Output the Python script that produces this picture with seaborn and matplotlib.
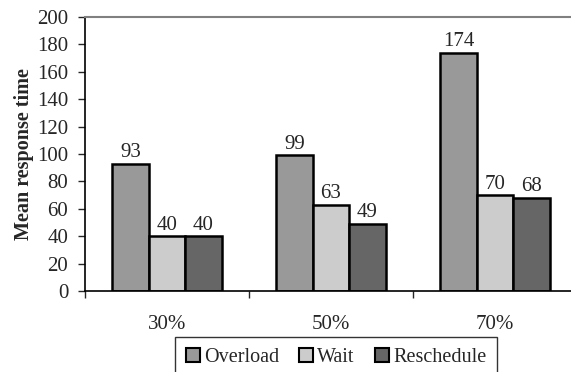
import matplotlib
matplotlib.use("Agg")
import matplotlib.pyplot as plt
import seaborn as sns
import pandas as pd
from matplotlib.ticker import FixedLocator, NullFormatter

loads = ["30%", "50%", "70%"]
policies = ["Overload", "Wait", "Reschedule"]
overload = [93, 99, 174]
wait = [40, 63, 70]
reschedule = [40, 49, 68]
colors = ["#999999", "#cccccc", "#666666"]

df = pd.DataFrame({
    "load": loads * 3,
    "policy": [p for p in policies for _ in loads],
    "value": overload + wait + reschedule,
})

sns.set_style("white")
plt.rcParams["font.family"] = ["Liberation Serif", "DejaVu Serif"]

FS = 15

fig = plt.figure(figsize=(5.71, 3.72), dpi=100)
ax = fig.add_axes([85 / 571, 81 / 372, 492 / 571, 274 / 372])

sns.barplot(data=df, x="load", y="value", hue="policy", order=loads,
            hue_order=policies, palette=colors, width=0.667,
            edgecolor="black", linewidth=1.8, saturation=1, ax=ax,
            legend=False)

for cont in ax.containers:
    ax.bar_label(cont, fontsize=FS, padding=1)

ax.set_xlim(-0.5, 2.5)
ax.set_ylim(0, 200)
ax.set_yticks(range(0, 201, 20))
ax.tick_params(axis="y", labelsize=FS, length=5, width=1, direction="out",
               left=True, pad=7)

# category boundaries carry tick marks, centers carry the labels
ax.xaxis.set_major_locator(FixedLocator([-0.5, 0.5, 1.5, 2.5]))
ax.xaxis.set_major_formatter(NullFormatter())
ax.xaxis.set_minor_locator(FixedLocator([0, 1, 2]))
ax.set_xticklabels(loads, minor=True)
ax.tick_params(axis="x", which="major", length=5, width=1, direction="out",
               bottom=True)
ax.tick_params(axis="x", which="minor", length=0, labelsize=FS, pad=17)

ax.set_xlabel("")
ax.set_ylabel("Mean response time", fontsize=14.5, fontweight="bold",
              labelpad=2)

for s in ("left", "bottom"):
    ax.spines[s].set_color("black")
    ax.spines[s].set_linewidth(1.2)
ax.spines["top"].set_color("#808080")
ax.spines["top"].set_linewidth(1.5)
ax.spines["right"].set_visible(False)

handles = [plt.Rectangle((0, 0), 1, 1, facecolor=c, edgecolor="black",
                         linewidth=1.5) for c in colors]
leg = fig.legend(handles, policies, loc="upper center",
                 bbox_to_anchor=(336 / 571, 1 - 337 / 372), ncol=3,
                 fontsize=14.5, frameon=True, fancybox=False,
                 handlelength=0.7, handleheight=0.7, handletextpad=0.2,
                 columnspacing=1.0, borderpad=0.55, borderaxespad=0)
leg.get_frame().set_edgecolor("black")
leg.get_frame().set_linewidth(1.0)

fig.savefig("out.png", dpi=100)
